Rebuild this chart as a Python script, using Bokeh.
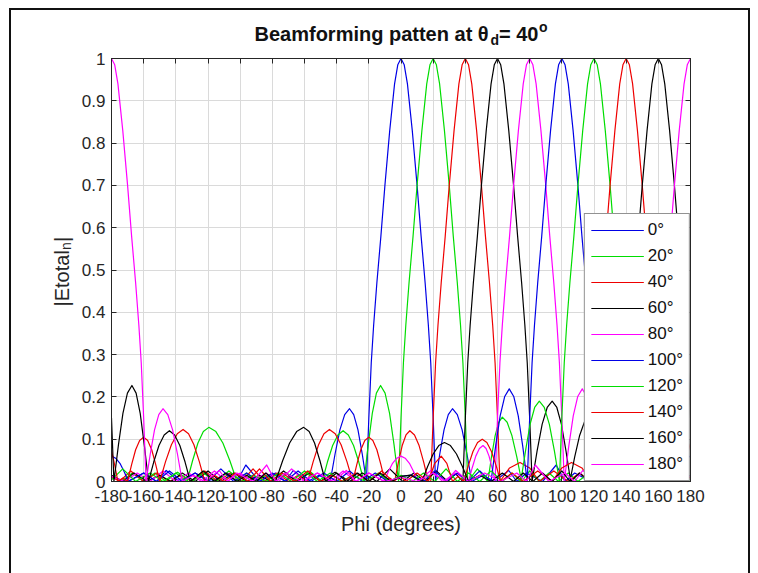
import math
from bokeh.plotting import figure
from bokeh.layouts import column
from bokeh.models import (Range1d, FixedTicker, CustomJSTickFormatter, Legend, LegendItem, LinearAxis, Label)
from bokeh.core.properties import value
from bokeh.embed import file_html
from bokeh.resources import INLINE

# ---------------- data ----------------
BEAMS = [0, 20, 40, 60, 80, 100, 120, 140, 160, 180]
LABELS = ["0°", "20°", "40°", "60°", "80°", "100°", "120°", "140°", "160°", "180°"]
COLORS = ["#0000e6", "#00dd00", "#ee0000", "#000000", "#ff00ff",
          "#0000e6", "#00dd00", "#ee0000", "#000000", "#ff00ff"]

X_TICKS = [-180, -160, -140, -120, -100, -80, -60, -40, -20, 0, 20, 40, 60, 80, 100, 120, 140, 160, 180]
Y_TICKS = [0, 0.1, 0.2, 0.3, 0.4, 0.5, 0.6, 0.7, 0.8, 0.9, 1]

TITLE_PARTS = ["Beamforming patten at θ", "d", "= 40", "o"]
YLABEL_PARTS = ["|Etotal", "n", "|"]
XLABEL = "Phi (degrees)"

# main lobe shape (offset from steering angle, normalised value)
MAIN_OFFSET = [-21.5, -20, -18.5, -17, -15, -12.5, -10, -7, -4, -2, 0, 2, 4, 7, 10, 12.5, 15, 17, 18.5, 20, 21.5]
MAIN_VALUE = [0, 0.15, 0.28, 0.37, 0.47, 0.58, 0.70, 0.83, 0.94, 0.985, 1, 0.985, 0.94, 0.83, 0.70, 0.58, 0.47, 0.37, 0.28, 0.15, 0]

# side lobes of every beam (phi in degrees, |Etotal|n)
SL_PHI_0 = [-180, -170, -160, -152, -146, -138, -128, -118, -108, -102, -96.5, -88, -78, -72, -67, -58, -51, -44,
            -41, -38, -35, -32, -29.4, -26.75, -24.1,
            24.1, 26.75, 29.4, 32, 35, 38, 41, 44,
            51, 58, 67, 72, 78, 88, 96.5, 102, 108, 118, 128, 138, 146, 152, 160, 170, 180]
SL_VAL_0 = [0.01, 0, 0.02, 0, 0.026, 0, 0.02, 0, 0.02, 0, 0.039, 0, 0.02, 0, 0.026, 0, 0.015, 0,
            0.065, 0.122, 0.158, 0.172, 0.158, 0.122, 0.065,
            0.065, 0.122, 0.158, 0.172, 0.158, 0.122, 0.065, 0,
            0.015, 0, 0.026, 0, 0.02, 0, 0.039, 0, 0.02, 0, 0.02, 0, 0.026, 0, 0.02, 0, 0.01]

SL_PHI_20 = [-180, -174, -167, -160, -153, -146, -140, -133,
             -129.6, -126.25, -122.9, -119.5, -115.1, -110.75, -106.4, -102,
             -96, -90, -84, -78, -71, -64, -57, -49,
             -45.75, -42.5, -39.25, -36, -32.75, -29.5, -26.25, -23,
             -20.4, -17.85, -15.3, -12.7, -9.9, -7.1, -4.3,
             47.5, 54, 56.25, 58.5, 60.75, 63, 66, 69, 72, 75,
             80, 86, 92, 98, 104, 110, 117, 124, 131, 138,
             141.75, 145.5, 149.25, 153, 156.5, 160, 163.5, 167, 174, 180]
SL_VAL_20 = [0.012, 0, 0.02, 0, 0.02, 0, 0.02, 0,
             0.049, 0.091, 0.118, 0.128, 0.118, 0.091, 0.049, 0,
             0.02, 0, 0.015, 0, 0.02, 0, 0.025, 0,
             0.046, 0.085, 0.11, 0.12, 0.11, 0.085, 0.046, 0,
             0.086, 0.161, 0.209, 0.227, 0.209, 0.161, 0.086,
             0.03, 0, 0.058, 0.108, 0.14, 0.152, 0.14, 0.108, 0.058, 0,
             0.025, 0, 0.02, 0, 0.02, 0, 0.02, 0, 0.015, 0,
             0.035, 0.065, 0.085, 0.092, 0.085, 0.065, 0.035, 0, 0.015, 0.012]

SL_PHI_40 = [-180, -175, -168, -160, -152, -144, -137, -130, -122, -114, -106, -99, -92, -85, -77, -70, -64, -58,
             -54.6, -51.25, -47.9, -44.5, -40.9, -37.25, -33.6, -30,
             -27.5, -25, -22.5, -20, -17.5, -15, -12.5, -10, -7, -4,
             -1.6, 0.75, 3.1, 5.5, 8.4, 11.25, 14.1, 17,
             67.5, 74, 80, 86, 95, 104, 111, 118,
             120.9, 123.75, 126.6, 129.5, 132.4, 135.25, 138.1, 141,
             144.5, 148, 151.5, 155, 159, 163, 170, 177, 180]
SL_VAL_40 = [0.012, 0, 0.025, 0, 0.02, 0, 0.015, 0, 0.025, 0, 0.02, 0, 0.03, 0, 0.02, 0, 0.015, 0,
             0.047, 0.087, 0.113, 0.123, 0.113, 0.087, 0.047, 0,
             0.04, 0.075, 0.097, 0.105, 0.097, 0.075, 0.04, 0, 0.008, 0,
             0.046, 0.085, 0.11, 0.12, 0.11, 0.085, 0.046, 0,
             0.032, 0.045, 0.032, 0, 0.025, 0, 0.02, 0,
             0.038, 0.071, 0.092, 0.10, 0.092, 0.071, 0.038, 0,
             0.012, 0, 0.043, 0.06, 0.043, 0, 0.02, 0, 0.012]

SL_PHI_60 = [-180, -173, -166, -158, -150, -143, -136, -128, -120, -112, -104, -96, -88, -81, -73, -65, -57, -50,
             -41, -32, -24, -15, -7, 1, 8, 15, 22, 29, 34,
             84.6, 87.75, 90.9, 94, 96.9, 99.75, 102.6, 105.5,
             111, 117, 124, 131, 138, 145, 152, 159, 166, 173, 180]
SL_VAL_60 = [0.015, 0, 0.02, 0, 0.015, 0, 0.02, 0, 0.025, 0, 0.02, 0, 0.015, 0, 0.025, 0, 0.02, 0,
             0.022, 0, 0.02, 0, 0.03, 0, 0.02, 0, 0.025, 0, 0.018,
             0.072, 0.135, 0.175, 0.19, 0.175, 0.135, 0.072, 0,
             0.02, 0, 0.025, 0, 0.02, 0, 0.03, 0, 0.02, 0, 0.015]

SL_PHI_80 = [-180, -172, -164, -156, -148, -140, -132, -124, -116, -108, -100, -92, -84, -76, -68, -60, -52, -44,
             -36, -28, -20,
             -10.5, -7.9, -5.25, -2.6, 0, 2.6, 5.25, 7.9, 10.5,
             18.5, 26, 34, 42,
             44.25, 46.5, 48.75, 51, 52.9, 54.75, 56.6,
             104.3, 107.1, 109.9, 112.7, 115.5, 118.35, 121.2, 124,
             131, 138, 145, 152, 159, 166, 173, 180]
SL_VAL_80 = [0.012, 0, 0.02, 0, 0.025, 0, 0.02, 0, 0.025, 0, 0.02, 0, 0.02, 0, 0.03, 0, 0.02, 0,
             0.025, 0, 0.02,
             0, 0.023, 0.043, 0.055, 0.06, 0.055, 0.043, 0.023, 0,
             0.026, 0, 0.02, 0,
             0.032, 0.06, 0.078, 0.085, 0.078, 0.06, 0.032,
             0.083, 0.155, 0.201, 0.219, 0.201, 0.155, 0.083, 0,
             0.025, 0, 0.02, 0, 0.025, 0, 0.015, 0.012]

SL_PHI_100 = [-180, -177.4, -174.75, -172.1, -169.5,
              -160, -152, -144, -136, -128, -120, -112, -104, -96, -88, -80, -72, -64, -56, -48, -40, -32, -24, -16, -8,
              0, 7, 14, 21, 28, 35, 42, 49, 56,
              58.8, 61.65, 64.5, 67.3, 70.1, 72.9, 75.7,
              123.4, 125.25, 127.1, 129, 131.25, 133.5, 135.75, 138,
              146, 154, 161.5, 169.5, 172.1, 174.75, 177.4, 180]
SL_VAL_100 = [0.06, 0.055, 0.043, 0.023, 0,
              0.02, 0, 0.025, 0, 0.02, 0, 0.03, 0, 0.02, 0, 0.02, 0, 0.025, 0, 0.02, 0, 0.025, 0, 0.02, 0,
              0.012, 0.015, 0, 0.025, 0, 0.02, 0, 0.025, 0,
              0.083, 0.155, 0.201, 0.219, 0.201, 0.155, 0.083,
              0.032, 0.06, 0.078, 0.085, 0.078, 0.06, 0.032, 0,
              0.02, 0, 0.026, 0, 0.023, 0.043, 0.055, 0.06]

SL_PHI_120 = [-180, -173, -165, -156, -148, -139, -130, -123, -115, -107,
              -99, -92, -84, -76, -68, -60, -52, -44, -37, -30,
              -22, -14, -7, 0, 7, 14, 21, 28, 35, 42,
              49, 56, 63, 69, 74.5,
              77.4, 80.25, 83.1, 86, 89.1, 92.25, 95.4,
              146, 151, 158, 165, 172, 179, 180]
SL_VAL_120 = [0.004, 0.03, 0, 0.02, 0, 0.022, 0, 0.02, 0, 0.025,
              0, 0.015, 0, 0.02, 0, 0.025, 0, 0.02, 0, 0.015,
              0, 0.02, 0, 0.015, 0, 0.02, 0, 0.03, 0, 0.02,
              0, 0.025, 0, 0.02, 0,
              0.072, 0.135, 0.175, 0.19, 0.175, 0.135, 0.072,
              0.018, 0, 0.025, 0, 0.02, 0, 0.004]

SL_PHI_140 = [-180, -178.4, -176, -173, -170,
              -167.5, -165, -162.5, -160, -157.5, -155, -152.5, -150,
              -146.4, -142.75, -139.1, -135.5, -132.1, -128.75, -125.4, -122,
              -116, -110, -103, -95, -88, -81, -74, -66, -58, -50, -43, -36, -28, -20, -12, -5, 0, 3, 10, 17,
              21, 25, 28.5, 32, 35.5, 39,
              41.9, 44.75, 47.6, 50.5, 53.4, 56.25, 59.1, 62,
              69, 76, 85, 94, 100, 106, 112.5,
              163, 165.9, 168.75, 171.6, 174.5, 176.9, 179.25, 180]
SL_VAL_140 = [0.073, 0.046, 0, 0.008, 0,
              0.04, 0.075, 0.097, 0.105, 0.097, 0.075, 0.04, 0,
              0.047, 0.087, 0.113, 0.123, 0.113, 0.087, 0.047, 0,
              0.015, 0, 0.02, 0, 0.03, 0, 0.02, 0, 0.025, 0, 0.015, 0, 0.02, 0, 0.025, 0, 0.012, 0, 0.02, 0,
              0.043, 0.06, 0.043, 0, 0.012, 0,
              0.038, 0.071, 0.092, 0.10, 0.092, 0.071, 0.038, 0,
              0.02, 0, 0.025, 0, 0.032, 0.045, 0.032,
              0, 0.046, 0.085, 0.11, 0.12, 0.11, 0.085, 0.073]

SL_PHI_160 = [-175.7, -172.9, -170.1, -167.3, -164.7, -162.15, -159.6, -157,
              -153.75, -150.5, -147.25, -144, -140.75, -137.5, -134.25, -131,
              -123, -116, -109, -102, -96, -90, -84, -78,
              -73.6, -69.25, -64.9, -60.5, -57.1, -53.75, -50.4, -47,
              -40, -34, -27, -20, -13, -6, 0, 6, 13,
              16.5, 20, 23.5, 27, 30.75, 34.5, 38.25, 42,
              49, 56, 63, 70, 76, 82, 88, 94, 100, 105,
              108, 111, 114, 117, 119.25, 121.5, 123.75, 126, 132.5]
SL_VAL_160 = [0.086, 0.161, 0.209, 0.227, 0.209, 0.161, 0.086, 0,
              0.046, 0.085, 0.11, 0.12, 0.11, 0.085, 0.046, 0,
              0.025, 0, 0.02, 0, 0.015, 0, 0.02, 0,
              0.049, 0.091, 0.118, 0.128, 0.118, 0.091, 0.049, 0,
              0.02, 0, 0.02, 0, 0.02, 0, 0.012, 0.015, 0,
              0.035, 0.065, 0.085, 0.092, 0.085, 0.065, 0.035, 0,
              0.015, 0, 0.02, 0, 0.02, 0, 0.02, 0, 0.025, 0,
              0.058, 0.108, 0.14, 0.152, 0.14, 0.108, 0.058, 0, 0.03]

SL_PHI_180 = [-155.9, -153.25, -150.6, -148, -145, -142, -139, -136,
              -129, -122, -113, -108, -102, -92, -83.5, -78, -72, -62, -52, -42, -34, -28, -20, -10, 0,
              10, 20, 28, 34, 42, 52, 62, 72, 78, 83.5, 92, 102, 108, 113, 122, 129,
              136, 139, 142, 145, 148, 150.6, 153.25, 155.9]
SL_VAL_180 = [0.065, 0.122, 0.158, 0.172, 0.158, 0.122, 0.065, 0,
              0.015, 0, 0.026, 0, 0.02, 0, 0.039, 0, 0.02, 0, 0.02, 0, 0.026, 0, 0.02, 0, 0.01,
              0, 0.02, 0, 0.026, 0, 0.02, 0, 0.02, 0, 0.039, 0, 0.02, 0, 0.026, 0, 0.015,
              0, 0.065, 0.122, 0.158, 0.172, 0.158, 0.122, 0.065]

SIDE = [(SL_PHI_0, SL_VAL_0), (SL_PHI_20, SL_VAL_20), (SL_PHI_40, SL_VAL_40), (SL_PHI_60, SL_VAL_60),
        (SL_PHI_80, SL_VAL_80), (SL_PHI_100, SL_VAL_100), (SL_PHI_120, SL_VAL_120), (SL_PHI_140, SL_VAL_140),
        (SL_PHI_160, SL_VAL_160), (SL_PHI_180, SL_VAL_180)]

# ---------------- layout ----------------
W, H = 758, 573
TITLE_H = 46                                 # strip holding the title
FRAME_L, FRAME_R, FRAME_T, FRAME_B = 111, 690, 58, 481   # page pixels
FONT = "Liberation Sans"
TXT = "#262626"


def dx(px):
    return -180 + (px - FRAME_L) * 360.0 / (FRAME_R - FRAME_L)


def dy(py):
    return (FRAME_B - py) / float(FRAME_B - FRAME_T)


# --- title strip: its frame is aligned with the main frame horizontally,
#     so x uses the same phi scale; y is measured from the top of the page
tfig = figure(width=W, height=TITLE_H, x_range=Range1d(-180, 180), y_range=Range1d(TITLE_H, 0),
              output_backend="svg", toolbar_location=None, x_axis_type=None, y_axis_type=None,
              min_border=0, min_border_left=FRAME_L, min_border_right=W - FRAME_R)
tfig.grid.visible = False
tfig.outline_line_color = None
tfig.border_fill_color = None
tfig.background_fill_color = None
tkw = dict(text_font=value(FONT), text_font_style="bold", text_color="#111111",
           text_baseline="middle", text_align="left")
tfig.text(x=[dx(254)], y=[33], text=[TITLE_PARTS[0]], text_font_size=value("20px"), **tkw)
tfig.text(x=[dx(490)], y=[39.5], text=[TITLE_PARTS[1]], text_font_size=value("14px"), **tkw)
tfig.text(x=[dx(498.5)], y=[33], text=[TITLE_PARTS[2]], text_font_size=value("20px"), **tkw)
tfig.text(x=[dx(538.5)], y=[26], text=[TITLE_PARTS[3]], text_font_size=value("14px"), **tkw)

# --- main plot
fig = figure(width=W, height=H - TITLE_H, x_range=Range1d(-180, 180), y_range=Range1d(0, 1),
             output_backend="svg", toolbar_location=None,
             min_border_left=FRAME_L, min_border_right=W - FRAME_R,
             min_border_top=FRAME_T - TITLE_H, min_border_bottom=H - FRAME_B)
fig.border_fill_color = None
fig.background_fill_color = "white"
fig.outline_line_color = TXT
fig.outline_line_width = 1

fig.xgrid.ticker = FixedTicker(ticks=X_TICKS)
fig.ygrid.ticker = FixedTicker(ticks=Y_TICKS)
fig.xgrid.grid_line_color = "#dadada"
fig.ygrid.grid_line_color = "#dadada"

renderers = []
for (beam, col, (sphi, sval)) in zip(BEAMS, COLORS, SIDE):
    pts = list(zip(sphi, sval))
    for off, val in zip(MAIN_OFFSET, MAIN_VALUE):
        x = beam + off
        if x > 180:
            x -= 360
        pts.append((x, val))
        if x == 180:
            pts.append((-180, val))
    pts.sort(key=lambda t: t[0])
    r = fig.line([t[0] for t in pts], [t[1] for t in pts], line_color=col, line_width=1.2, line_join="round")
    renderers.append(r)

fig.xaxis.ticker = FixedTicker(ticks=X_TICKS)
fig.yaxis.ticker = FixedTicker(ticks=Y_TICKS)
fig.xaxis.formatter = CustomJSTickFormatter(code="return tick.toFixed(0);")
fig.yaxis.formatter = CustomJSTickFormatter(code="return (Math.round(tick*10)/10).toString();")
for ax in (fig.xaxis[0], fig.yaxis[0]):
    ax.axis_line_color = TXT
    ax.major_tick_line_color = TXT
    ax.major_tick_in = 5
    ax.major_tick_out = 0
    ax.minor_tick_line_color = None
    ax.major_label_text_font = FONT
    ax.major_label_text_font_size = "17px"
    ax.major_label_text_color = TXT
fig.yaxis.major_label_standoff = 6
fig.xaxis.major_label_standoff = 8
fig.xaxis.axis_label = XLABEL
fig.xaxis.axis_label_text_font = FONT
fig.xaxis.axis_label_text_font_size = "20px"
fig.xaxis.axis_label_text_font_style = "normal"
fig.xaxis.axis_label_text_color = TXT
fig.xaxis.axis_label_standoff = 8

# mirrored (label-less) axes on the right and top of the box, ticks pointing inward
for loc, ticks in (("right", Y_TICKS), ("above", X_TICKS)):
    ax = LinearAxis(ticker=FixedTicker(ticks=ticks), major_label_text_color=None,
                    major_label_text_font_size="0px", major_label_standoff=0,
                    major_tick_in=5, major_tick_out=0, minor_tick_line_color=None,
                    axis_line_color=TXT, major_tick_line_color=TXT)
    fig.add_layout(ax, loc)

legend = Legend(items=[LegendItem(label=lab, renderers=[r]) for lab, r in zip(LABELS, renderers)])
legend.location = "bottom_right"
legend.margin = 0
legend.padding = 6
legend.spacing = 6
legend.glyph_width = 53
legend.glyph_height = 20
legend.label_height = 20
legend.label_standoff = 4
legend.label_text_font = FONT
legend.label_text_font_size = "17px"
legend.label_text_color = "#111111"
legend.border_line_color = TXT
legend.border_line_width = 1
legend.background_fill_color = "white"
legend.background_fill_alpha = 1
fig.add_layout(legend)

# y axis label |Etotal_n| in the left side panel (not clipped by the frame)
ykw = dict(text_font=FONT, text_color=TXT, text_baseline="alphabetic", text_align="left", angle=math.pi / 2)
fig.add_layout(Label(x=dx(61), y=dy(306), text=YLABEL_PARTS[0], text_font_size="20px", **ykw), "left")
fig.add_layout(Label(x=dx(65), y=dy(249.5), text=YLABEL_PARTS[1], text_font_size="14px", **ykw), "left")
fig.add_layout(Label(x=dx(61), y=dy(241.5), text=YLABEL_PARTS[2], text_font_size="20px", **ykw), "left")

p = column(tfig, fig, spacing=0)
p.styles = {
    "background-color": "white",
    "background-image": "linear-gradient(#111,#111), linear-gradient(#111,#111), linear-gradient(#111,#111)",
    "background-size": "2px 570px, 741px 2px, 2px 570px",
    "background-position": "9px 8px, 9px 8px, 748px 8px",
    "background-repeat": "no-repeat",
}

open("out.html", "w").write(file_html(p, INLINE))
